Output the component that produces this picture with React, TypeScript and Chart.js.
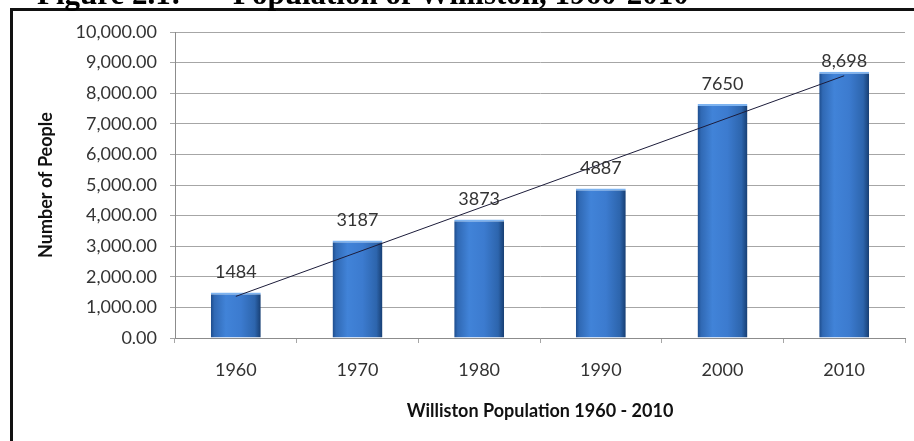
import React, { useEffect, useRef } from "react";
import { Chart, registerables } from "chart.js";

Chart.register(...registerables);

// ---- data ----
const years = ["1960", "1970", "1980", "1990", "2000", "2010"];
const population = [1484, 3187, 3873, 4887, 7650, 8698];
const valueLabels = ["1484", "3187", "3873", "4887", "7650", "8,698"];
const trendStart = 1360;
const trendEnd = 8570;
const trendValues = [trendStart, null, null, null, null, trendEnd];
const yTickLabels = [
  "0.00",
  "1,000.00",
  "2,000.00",
  "3,000.00",
  "4,000.00",
  "5,000.00",
  "6,000.00",
  "7,000.00",
  "8,000.00",
  "9,000.00",
  "10,000.00",
];
const figureLabel = "Figure 2.1:";
const figureTitle = "Population of Williston, 1960-2010";
const xAxisTitle = "Williston Population 1960 - 2010";
const yAxisTitle = "Number of People";

const FONT = "Lato, 'Open Sans', sans-serif";
const BAR_PCT = 0.41;

const framePlugin = {
  id: "frame",
  beforeDraw(chart: any) {
    const ctx = chart.ctx;
    ctx.save();
    ctx.fillStyle = "#ffffff";
    ctx.fillRect(0, 0, chart.width, chart.height);
    // border of the figure box
    ctx.fillStyle = "#111111";
    ctx.fillRect(10, 8, chart.width - 10, 3);
    ctx.fillRect(10, 8, 3, chart.height - 8);
    // figure caption (cut off at the top)
    ctx.font = "bold 31px 'Liberation Serif', 'DejaVu Serif', serif";
    ctx.textBaseline = "alphabetic";
    ctx.textAlign = "left";
    ctx.fillStyle = "#000000";
    ctx.fillText(figureLabel, 37, 4);
    ctx.fillText(figureTitle, 233, 4);
    ctx.restore();
  },
};

const valueLabelPlugin = {
  id: "valueLabels",
  afterDatasetsDraw(chart: any) {
    const gaps = [20, 20, 20, 20, 20, 11];
    const meta = chart.getDatasetMeta(0);
    const ctx = chart.ctx;
    ctx.save();
    ctx.font = `18px ${FONT}`;
    ctx.fillStyle = "#333333";
    ctx.textAlign = "center";
    ctx.textBaseline = "middle";
    meta.data.forEach((el: any, i: number) => {
      ctx.fillText(valueLabels[i], el.x, el.y - gaps[i]);
    });
    ctx.restore();
  },
};

export default function App() {
  const ref = useRef<HTMLCanvasElement>(null);

  useEffect(() => {
    const canvas = ref.current;
    if (!canvas) return;
    const chart = new Chart(canvas, {
      type: "bar",
      data: {
        labels: years,
        datasets: [
          {
            type: "bar",
            label: "Population",
            data: population,
            order: 1,
            categoryPercentage: 1,
            barPercentage: BAR_PCT,
            borderWidth: { top: 2, left: 0, right: 0, bottom: 0 },
            borderColor: "#7db3f0",
            borderSkipped: "bottom",
            backgroundColor: (c: any) => {
              const ch = c.chart;
              const xs = ch.scales && ch.scales.x;
              if (!ch.chartArea || !xs || c.type !== "data") return "#3a78cc";
              const cx = xs.getPixelForValue(c.dataIndex);
              const half = (xs.width / years.length) * BAR_PCT / 2;
              const g = ch.ctx.createLinearGradient(cx - half, 0, cx + half, 0);
              g.addColorStop(0, "#1d4c8c");
              g.addColorStop(0.07, "#3069b4");
              g.addColorStop(0.3, "#4183d8");
              g.addColorStop(0.6, "#3c7bcf");
              g.addColorStop(0.88, "#2d65ad");
              g.addColorStop(1, "#173e72");
              return g;
            },
          } as any,
          {
            type: "line",
            label: "Trend",
            data: trendValues,
            order: 0,
            spanGaps: true,
            borderColor: "#1c1c3a",
            borderWidth: 1,
            pointRadius: 0,
            fill: false,
          } as any,
        ],
      },
      options: {
        responsive: false,
        devicePixelRatio: 1,
        animation: false,
        events: [],
        layout: { padding: { left: 0, top: 32, right: 9, bottom: 0 } },
        plugins: {
          legend: { display: false },
          tooltip: { enabled: false },
          title: { display: false },
        },
        scales: {
          x: {
            offset: true,
            grid: {
              display: true,
              offset: true,
              drawOnChartArea: false,
              drawTicks: true,
              tickLength: 5,
              color: "#a6a6a6",
            },
            border: { display: true, color: "#8c8c8c", width: 1 },
            ticks: {
              padding: 16,
              color: "#333333",
              font: { family: FONT, size: 18 },
              maxRotation: 0,
              autoSkip: false,
            },
            title: {
              display: true,
              text: xAxisTitle,
              color: "#111111",
              font: { family: FONT, size: 18, weight: "bold" },
              padding: { top: 0, bottom: 19.2 },
            },
            afterFit: (s: any) => {
              s.height = 103;
            },
          },
          y: {
            min: 0,
            max: 10000,
            ticks: {
              stepSize: 1000,
              padding: 13,
              color: "#333333",
              font: { family: FONT, size: 18 },
              callback: (_v: any, i: number) => yTickLabels[i],
            },
            grid: {
              color: "#a6a6a6",
              lineWidth: 1,
              drawTicks: true,
              tickLength: 5,
            },
            border: { display: true, color: "#8c8c8c", width: 1 },
            title: {
              display: true,
              text: yAxisTitle,
              color: "#111111",
              font: { family: FONT, size: 18, weight: "bold" },
              padding: { top: 35.2, bottom: 0 },
            },
            afterFit: (s: any) => {
              s.width = 175;
            },
          },
        },
      },
      plugins: [framePlugin, valueLabelPlugin],
    } as any);
    return () => chart.destroy();
  }, []);

  return (
    <div
      style={{
        position: "absolute",
        left: 0,
        top: 0,
        width: 914,
        height: 441,
        background: "#ffffff",
      }}
    >
      <canvas
        ref={ref}
        width={914}
        height={441}
        style={{ display: "block", width: 914, height: 441 }}
      />
    </div>
  );
}
